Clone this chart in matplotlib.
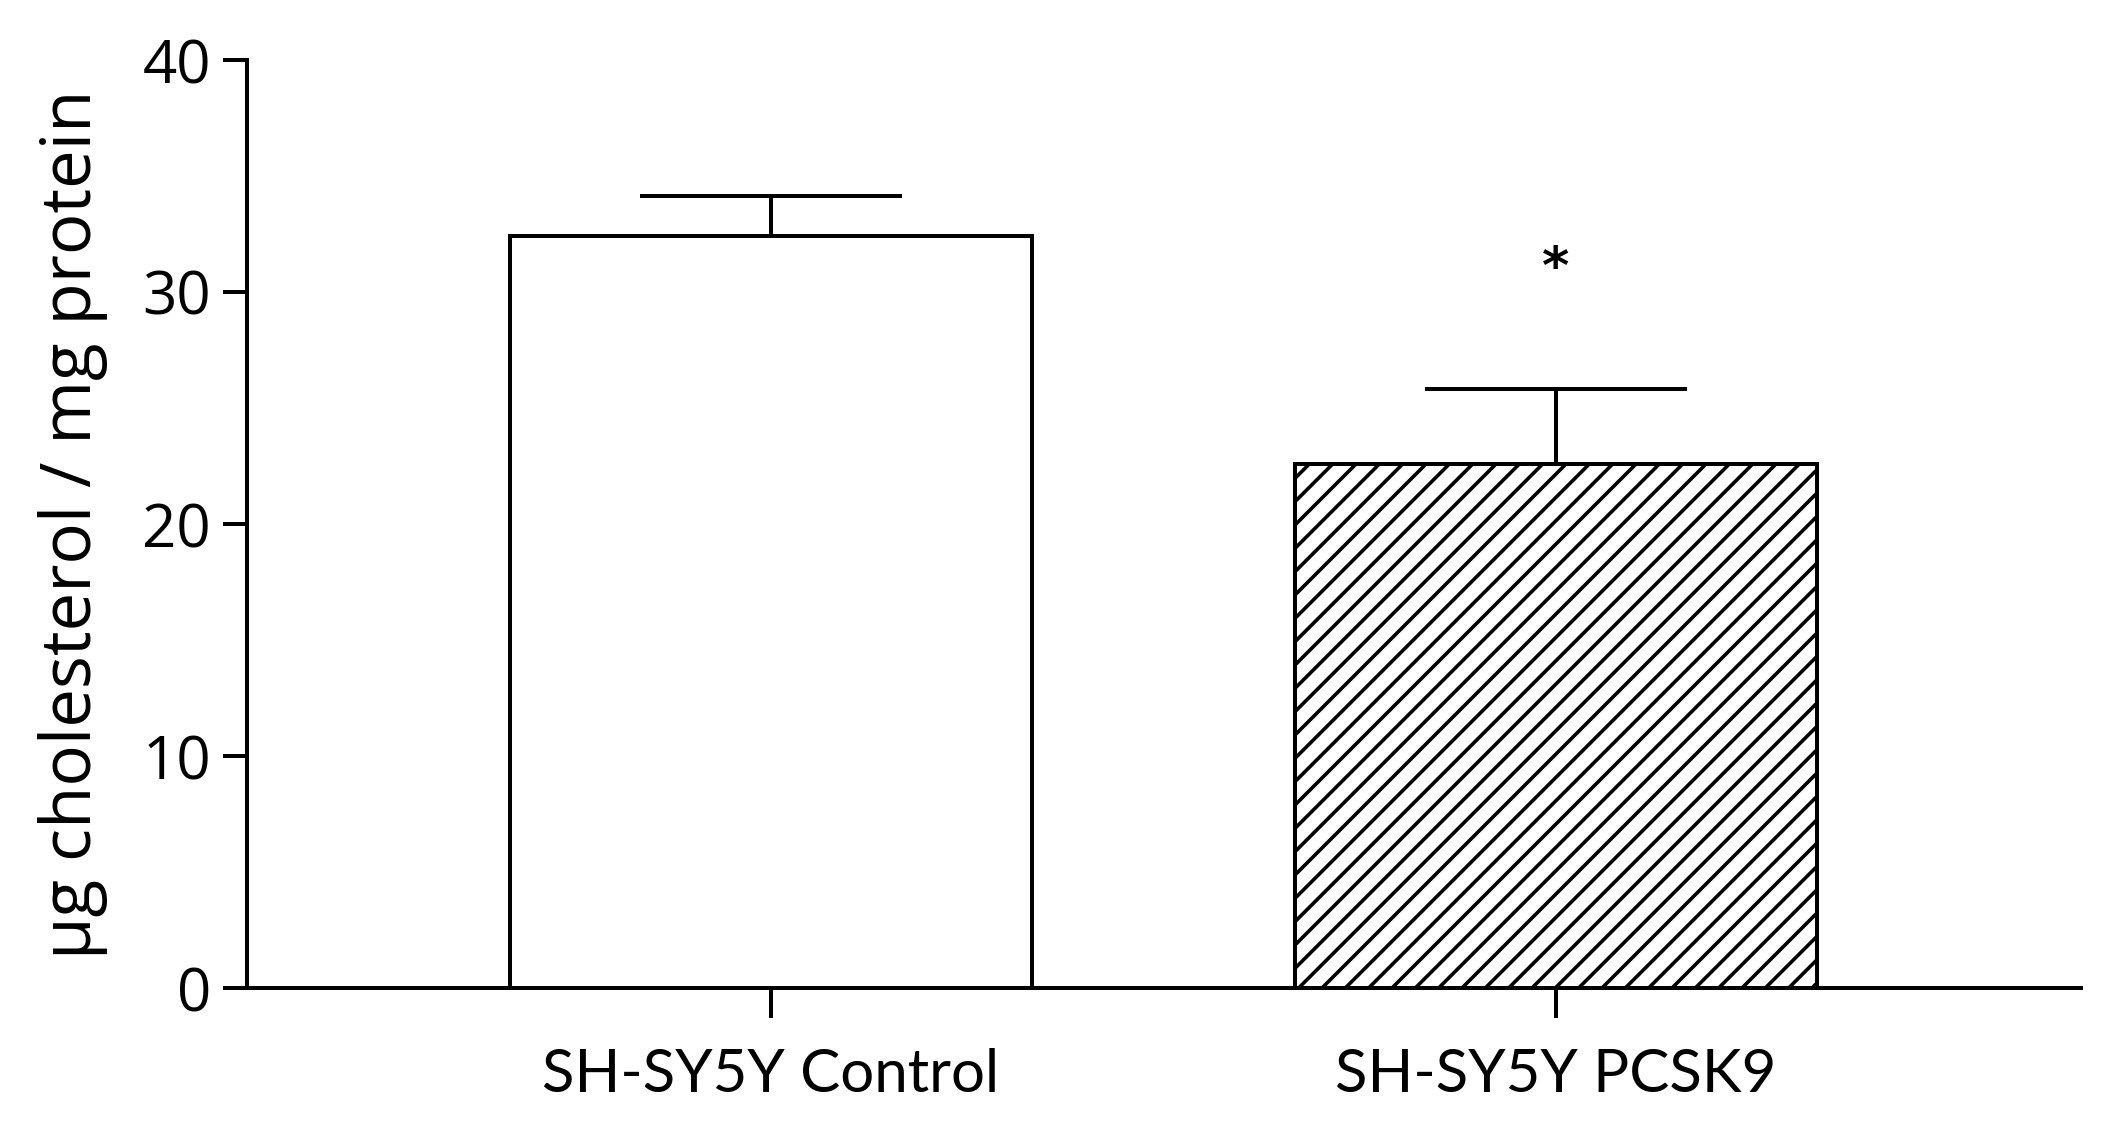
import matplotlib
matplotlib.use("Agg")
import matplotlib.pyplot as plt

categories = ["SH-SY5Y Control", "SH-SY5Y PCSK9"]
means = [32.4, 22.6]
sem = [1.75, 3.2]
hatches = ["", "//"]
yticks = [0, 10, 20, 30, 40]
ylabel = "μg cholesterol / mg protein"
star_label = "*"
star_y = 31.0

DPI = 140.4
W, H = 2106, 1128
PT = 72.0 / DPI  # px -> pt

plt.rcParams["hatch.linewidth"] = 3.6 * PT
plt.rcParams["hatch.color"] = "black"

fig = plt.figure(figsize=(W / DPI, H / DPI), dpi=DPI)
fig.patch.set_facecolor("white")

left, right = 247 / W, 2081 / W
bottom, top = 1 - 988 / H, 1 - 60 / H
ax = fig.add_axes([left, bottom, right - left, top - bottom])

x = list(range(len(categories)))
bars = ax.bar(x, means, width=0.665, color="white", edgecolor="black",
              linewidth=4.0 * PT, zorder=2)
for b, h in zip(bars, hatches):
    b.set_hatch(h)

ax.errorbar(x, means, yerr=[[0] * len(sem), sem], fmt="none", ecolor="black",
            elinewidth=4.0 * PT, capsize=131 * PT, capthick=4.0 * PT, zorder=3)

ax.text(x[1], star_y, star_label, ha="center", va="center",
        fontsize=52 * PT, family="DejaVu Sans", fontweight="bold", color="black")

ax.set_xlim(-0.6675, 1.669)
ax.set_ylim(0, 40)
ax.set_yticks(yticks)
ax.set_xticks(x)
ax.set_xticklabels(categories, fontsize=60 * PT, family="Lato")
for lab in ax.get_yticklabels():
    lab.set_fontsize(60 * PT)
    lab.set_family("Open Sans")

for s in ["top", "right"]:
    ax.spines[s].set_visible(False)
for s in ["left", "bottom"]:
    ax.spines[s].set_linewidth(4.0 * PT)

ax.tick_params(axis="y", direction="out", length=24 * PT, width=4.0 * PT,
               pad=12 * PT, colors="black")
ax.tick_params(axis="x", direction="out", length=30 * PT, width=4.0 * PT,
               pad=30 * PT, colors="black")

ax.set_ylabel(ylabel, fontsize=69 * PT, family="Open Sans")
ax.yaxis.set_label_coords((108 - 247) / (2081 - 247), 0.5)

fig.savefig("out.png", dpi=DPI, facecolor="white")
